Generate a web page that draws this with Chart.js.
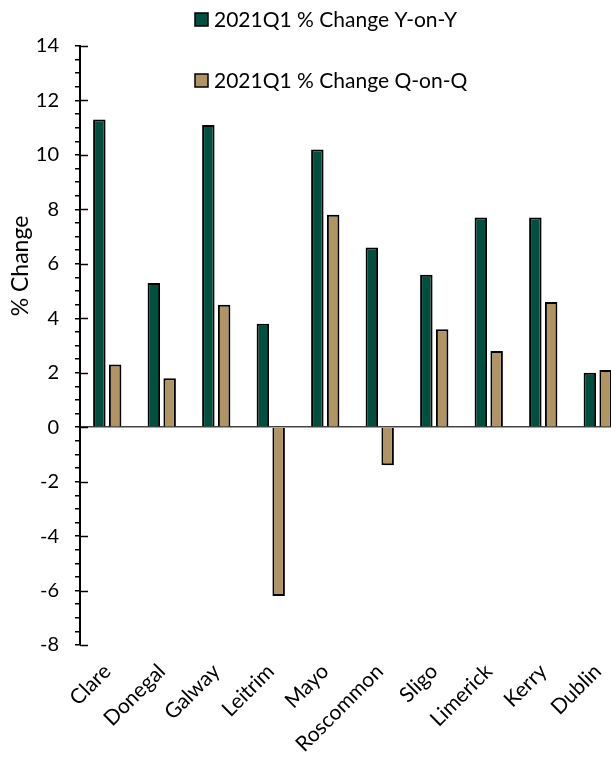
<!DOCTYPE html>
<html>
<head>
<meta charset="utf-8">
<script src="https://cdn.jsdelivr.net/npm/chart.js@4.4.1/dist/chart.umd.min.js"></script>
<style>
  html, body { margin: 0; padding: 0; background: #fff; overflow: hidden; }
  canvas { display: block; }
</style>
</head>
<body>
<canvas id="chart" width="630" height="760"></canvas>
<script>
// Regional house-price change, 2021 Q1
const counties = ['Clare', 'Donegal', 'Galway', 'Leitrim', 'Mayo', 'Roscommon', 'Sligo', 'Limerick', 'Kerry', 'Dublin'];
const changeYoY = [11.3, 5.3, 11.1, 3.8, 10.2, 6.6, 5.6, 7.7, 7.7, 2.0];
const changeQoQ = [2.3, 1.8, 4.5, -6.2, 7.8, -1.4, 3.6, 2.8, 4.6, 2.1];
const seriesLabels = ['2021Q1 % Change Y-on-Y', '2021Q1 % Change Q-on-Q'];
const yAxisTitle = '% Change';
const yMin = -8, yMax = 14, yMajorStep = 2, yMinorStep = 0.5;

const FONT = 'Lato, "Open Sans", sans-serif';
const GREEN = '#014f3f';
const TAN = '#b09464';

const isMajor = v => Math.abs(v / yMajorStep - Math.round(v / yMajorStep)) < 1e-9;

// Legend drawn as a vertical stack above the plot
const stackedLegend = {
  id: 'stackedLegend',
  afterDraw(chart, args, opts) {
    const ctx = chart.ctx;
    ctx.save();
    ctx.font = opts.font;
    ctx.textBaseline = 'middle';
    ctx.textAlign = 'left';
    chart.data.datasets.forEach((ds, i) => {
      const cy = opts.top + i * opts.rowGap;
      const b = opts.box;
      ctx.fillStyle = ds.backgroundColor;
      ctx.fillRect(opts.left, cy - b / 2, b, b);
      ctx.lineWidth = 1.5;
      ctx.strokeStyle = '#000';
      ctx.strokeRect(opts.left, cy - b / 2, b, b);
      ctx.fillStyle = '#000';
      ctx.fillText(ds.label, opts.left + b + opts.gap, cy + 1);
    });
    ctx.restore();
  }
};

// Vertical axis title, set in the upper part of the value axis
const axisTitle = {
  id: 'axisTitle',
  afterDraw(chart, args, opts) {
    const ctx = chart.ctx;
    ctx.save();
    ctx.font = opts.font;
    ctx.fillStyle = '#000';
    ctx.textAlign = 'center';
    ctx.textBaseline = 'middle';
    ctx.translate(opts.x, opts.y);
    ctx.rotate(-Math.PI / 2);
    ctx.fillText(opts.text, 0, 0);
    ctx.restore();
  }
};

// Major y ticks cross the axis line into the plot
const crossingTicks = {
  id: 'crossingTicks',
  afterDraw(chart, args, opts) {
    const y = chart.scales.y;
    const ctx = chart.ctx;
    const x0 = chart.chartArea.left;
    ctx.save();
    ctx.strokeStyle = '#000';
    ctx.lineWidth = 1.5;
    y.ticks.forEach((t, i) => {
      if (!isMajor(t.value)) return;
      const py = Math.round(y.getPixelForTick(i)) + 0.5;
      ctx.beginPath();
      ctx.moveTo(x0, py);
      ctx.lineTo(x0 + opts.inner, py);
      ctx.stroke();
    });
    ctx.restore();
  }
};

new Chart(document.getElementById('chart'), {
  type: 'bar',
  data: {
    labels: counties,
    datasets: [
      { label: seriesLabels[0], data: changeYoY, backgroundColor: GREEN, borderColor: '#000', borderWidth: 2 },
      { label: seriesLabels[1], data: changeQoQ, backgroundColor: TAN, borderColor: '#000', borderWidth: 2 }
    ]
  },
  plugins: [stackedLegend, axisTitle, crossingTicks],
  options: {
    responsive: false,
    animation: false,
    layout: { padding: { top: 46, left: 0, right: 5, bottom: 0 } },
    datasets: { bar: { categoryPercentage: 0.58, barPercentage: 0.79 } },
    plugins: {
      legend: { display: false },
      tooltip: { enabled: false },
      stackedLegend: { left: 195, top: 19.5, rowGap: 61, box: 13, gap: 6, font: '21px ' + FONT },
      axisTitle: { text: yAxisTitle, x: 21, y: 266, font: '23px ' + FONT },
      crossingTicks: { inner: 8 }
    },
    scales: {
      x: {
        afterFit(scale) { scale.height = 115; },
        grid: { display: false },
        border: { display: false },
        ticks: { color: '#000', font: { family: FONT, size: 21 }, minRotation: 45, maxRotation: 45, padding: 6, autoSkip: false }
      },
      y: {
        min: yMin,
        max: yMax,
        afterFit(scale) { scale.width = 80; },
        border: { display: true, color: '#000', width: 2 },
        grid: {
          drawOnChartArea: true,
          color: c => (c.tick && c.tick.value === 0 ? '#444' : 'rgba(0,0,0,0)'),
          lineWidth: 1.5,
          drawTicks: true,
          tickLength: 5,
          tickColor: '#000',
          tickWidth: 1.5
        },
        ticks: {
          stepSize: yMinorStep,
          maxTicksLimit: 100,
          autoSkip: false,
          color: '#000',
          padding: 16,
          font: { family: FONT, size: 20 },
          callback: v => (isMajor(v) ? String(v) : '')
        },
        title: { display: false }
      }
    }
  }
});
</script>
</body>
</html>
